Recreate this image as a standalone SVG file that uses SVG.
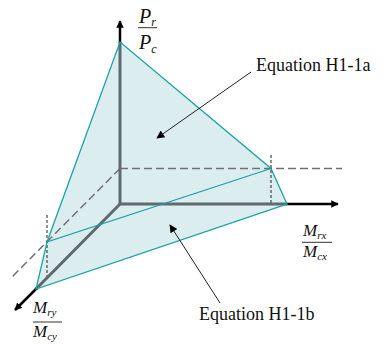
<svg xmlns="http://www.w3.org/2000/svg" width="383" height="344" viewBox="0 0 383 344">
<defs>
<marker id="ax" viewBox="0 0 10 10" refX="9" refY="5" markerWidth="3.2" markerHeight="3" orient="auto" markerUnits="strokeWidth">
<path d="M0,0 L10,5 L0,10 z" fill="#000"/>
</marker>
<marker id="lead" viewBox="0 0 10 10" refX="9" refY="5" markerWidth="10" markerHeight="8" orient="auto" markerUnits="userSpaceOnUse">
<path d="M0,0 L10,5 L0,10 z" fill="#000"/>
</marker>
</defs>
<style>
.surf{fill:#dcedf0;stroke:none}
.edge{fill:none;stroke:#1aa3a3;stroke-width:1.3}
.axis{fill:none;stroke:#5e6a6d;stroke-width:3}
.axtip{fill:none;stroke:#000;stroke-width:2.5}
.dash{fill:none;stroke:#707070;stroke-width:1.5;stroke-dasharray:8 4}
.dot{fill:none;stroke:#222;stroke-width:1;stroke-dasharray:3 2}
.leader{fill:none;stroke:#222;stroke-width:1}
.lbl{font-family:"Liberation Serif","Times New Roman",serif;font-size:18px;fill:#111}
.m{font-family:"Liberation Serif","Times New Roman",serif;font-style:italic;fill:#111}
.bar{stroke:#333;stroke-width:1}
</style>
<g id="surface">
<polygon class="surf" points="120,42 271,168.5 287,204 36,289 47,242"/>
</g>
<g id="connectors">
<line class="dash" x1="120" y1="168.5" x2="342" y2="168.5"/>
<line class="dash" x1="120" y1="168.5" x2="12.5" y2="276.5"/>
<line class="dot" x1="271" y1="155" x2="271" y2="204"/>
<line class="dot" x1="47" y1="215" x2="47" y2="277"/>
<line class="axis" x1="120" y1="204" x2="120" y2="42"/>
<line class="axis" x1="120" y1="204" x2="287" y2="204"/>
<line class="axis" x1="120" y1="204" x2="36" y2="289"/>
<line class="axtip" x1="120" y1="43" x2="120" y2="21" marker-end="url(#ax)"/>
<line class="axtip" x1="286" y1="204" x2="338" y2="204" marker-end="url(#ax)"/>
<line class="axtip" x1="37" y1="288" x2="15" y2="310" marker-end="url(#ax)"/>
<polyline class="edge" points="47,242 120,42 271,168.5 287,204 36,289 47,242 271,168.5"/>
<line class="leader" x1="251" y1="72" x2="157" y2="138" marker-end="url(#lead)"/>
<line class="leader" x1="220" y1="303" x2="170" y2="225" marker-end="url(#lead)"/>
</g>
<g id="label-a"><text class="lbl" x="256" y="71">Equation H1-1a</text></g>
<g id="label-b"><text class="lbl" x="199" y="320">Equation H1-1b</text></g>
<g id="label-pz">
<text class="m" x="139" y="23" font-size="20">P<tspan font-size="12" dy="3">r</tspan></text>
<line class="bar" x1="138" y1="27.7" x2="157" y2="27.7"/>
<text class="m" x="139" y="49" font-size="20">P<tspan font-size="12" dy="4">c</tspan></text>
</g>
<g id="label-mx">
<text class="m" x="303" y="236" font-size="17">M<tspan font-size="11" dy="3">rx</tspan></text>
<line class="bar" x1="302" y1="242.3" x2="332" y2="242.3"/>
<text class="m" x="303" y="257" font-size="17">M<tspan font-size="11" dy="3">cx</tspan></text>
</g>
<g id="label-my">
<text class="m" x="33" y="313" font-size="17">M<tspan font-size="11" dy="3">ry</tspan></text>
<line class="bar" x1="33" y1="322" x2="62" y2="322"/>
<text class="m" x="33" y="337" font-size="17">M<tspan font-size="11" dy="3">cy</tspan></text>
</g>
</svg>
